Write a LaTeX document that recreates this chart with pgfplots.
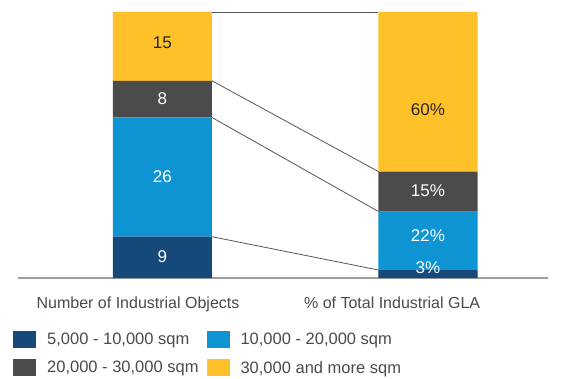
\documentclass[border=0pt]{standalone}
\usepackage{fontspec}
\setmainfont{Liberation Sans}
\usepackage{pgfplots}
\pgfplotsset{compat=1.18}
\definecolor{cA}{HTML}{17487A}
\definecolor{cB}{HTML}{0E94D2}
\definecolor{cC}{HTML}{4B4B4B}
\definecolor{cD}{HTML}{FEC12A}
\definecolor{txt}{HTML}{4A4A4A}
\definecolor{ln}{HTML}{555555}
\begin{document}
\begin{tikzpicture}[x=1pt,y=1pt]
\path[use as bounding box] (0,0) rectangle (567,378);
\pgfplotsset{
 base/.style={at={(18pt,100pt)}, anchor=south west, scale only axis,
   width=530pt, height=266pt, xmin=0.456, xmax=2.452, ymin=0, ymax=100, clip=false},
}
\begin{axis}[base, ybar stacked, bar width=0.373,
  axis y line=none, axis x line*=bottom,
  x axis line style={draw=gray!75, line width=1.5pt, -},
  xtick={0.908,1.865},
  xticklabels={Number of Industrial Objects, \% of Total Industrial GLA},
  major tick length=0,
  xticklabel style={font=\fontsize{16}{19}\selectfont, text=txt, yshift=-15pt},
  legend columns=2,
  legend image code/.code={\path[#1] (0pt,-8.5pt) rectangle (23pt,8.5pt);},
  legend style={at={(0,0)}, anchor=north west, xshift=-8pt, yshift=-51pt,
    draw=none, fill=none, font=\fontsize{16.5}{19}\selectfont, text=txt,
    row sep=11pt,
    /tikz/every odd column/.append style={column sep=9pt},
    /tikz/every even column/.append style={column sep=6pt},
    legend cell align=left},
]
\addplot[fill=cA, draw=none] coordinates {(1,15.517) (2,3)};
\addplot[fill=cB, draw=none] coordinates {(1,44.828) (2,22)};
\addplot[fill=cC, draw=none] coordinates {(1,13.793) (2,15)};
\addplot[fill=cD, draw=none] coordinates {(1,25.862) (2,60)};
\legend{5{,}000 - 10{,}000 sqm, 10{,}000 - 20{,}000 sqm, 20{,}000 - 30{,}000 sqm, 30{,}000 and more sqm}
\end{axis}
\begin{axis}[base, hide axis]
\addplot[ln, line width=0.8pt] coordinates {(1.1865,100) (1.8135,100)};
\addplot[ln, line width=0.8pt] coordinates {(1.1865,15.517) (1.8135,3)};
\addplot[ln, line width=0.8pt] coordinates {(1.1865,60.345) (1.8135,25)};
\addplot[ln, line width=0.8pt] coordinates {(1.1865,74.138) (1.8135,40)};
\begin{scope}[every node/.style={font=\fontsize{17}{20}\selectfont}]
\node[white] at (axis cs:1,7.9) {9};
\node[white] at (axis cs:1,38.0) {26};
\node[white] at (axis cs:1,67.3) {8};
\node[text=black!85] at (axis cs:1,88.5) {15};
\node[white] at (axis cs:2,3.8) {3\%};
\node[white] at (axis cs:2,15.8) {22\%};
\node[white] at (axis cs:2,32.7) {15\%};
\node[text=black!85] at (axis cs:2,63.2) {60\%};
\end{scope}
\end{axis}
\end{tikzpicture}
\end{document}
